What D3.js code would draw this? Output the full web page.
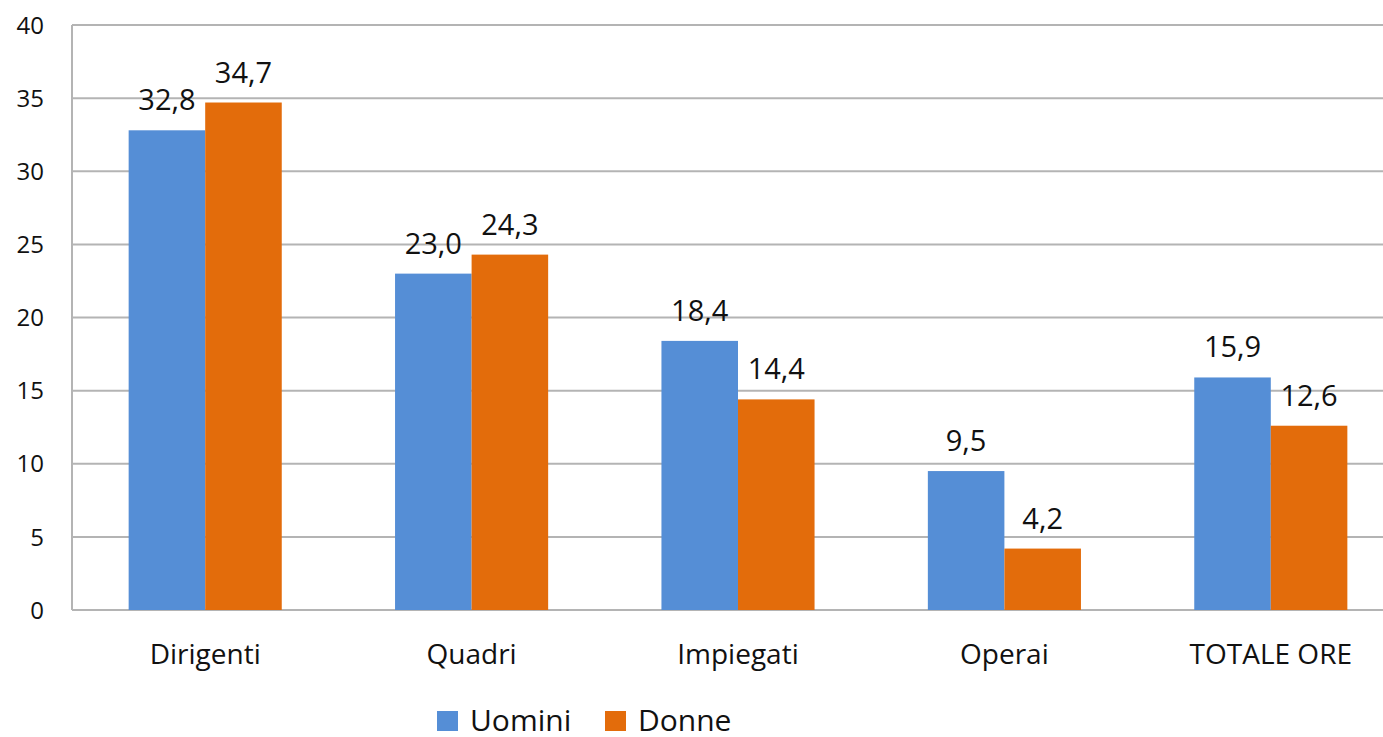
<!DOCTYPE html>
<html>
<head>
<meta charset="utf-8">
<script src="https://cdn.jsdelivr.net/npm/d3@7"></script>
<style>
    body { margin: 0; background: #fff; }
    svg text { font-family: 'Open Sans', sans-serif; fill: #111; }
</style>
</head>
<body>
<svg id="chart" width="1383" height="737"></svg>
<script>
// dati
const categories = ['Dirigenti', 'Quadri', 'Impiegati', 'Operai', 'TOTALE ORE'];
const seriesNames = ['Uomini', 'Donne'];
const uomini = [32.8, 23.0, 18.4, 9.5, 15.9];
const donne = [34.7, 24.3, 14.4, 4.2, 12.6];
const yTicks = [0, 5, 10, 15, 20, 25, 30, 35, 40];

const color = d3.scaleOrdinal().domain(seriesNames).range(['#558ed6', '#e36c0b']);

const svg = d3.select('#chart');
const plotLeft = 72, plotTop = 25, plotBottom = 610;
const step = 266.4;

const x0 = d3.scaleBand()
    .domain(categories)
    .range([plotLeft, plotLeft + step * categories.length]);

const x1 = d3.scaleBand()
    .domain(seriesNames)
    .range([0, x0.bandwidth()])
    .paddingOuter(0.74);

const y = d3.scaleLinear().domain([0, 40]).range([plotBottom, plotTop]);

const fmt = v => v.toFixed(1).replace('.', ',');

// griglia
svg.append('g')
    .selectAll('line')
    .data(yTicks)
    .enter()
    .append('line')
    .attr('x1', plotLeft)
    .attr('x2', 1383)
    .attr('y1', d => y(d))
    .attr('y2', d => y(d))
    .attr('stroke', '#b4b4b4')
    .attr('stroke-width', 2);

// asse verticale
svg.append('line')
    .attr('x1', plotLeft)
    .attr('x2', plotLeft)
    .attr('y1', y(40))
    .attr('y2', y(0))
    .attr('stroke', '#b4b4b4')
    .attr('stroke-width', 2);

// etichette asse y
svg.append('g')
    .selectAll('text')
    .data(yTicks)
    .enter()
    .append('text')
    .attr('x', 44)
    .attr('y', d => y(d))
    .attr('dy', '0.36em')
    .attr('text-anchor', 'end')
    .style('font-size', '24px')
    .text(d => d);

const rows = categories.map((c, i) => ({ cat: c, values: [uomini[i], donne[i]] }));

const groups = svg.append('g')
    .selectAll('g')
    .data(rows)
    .enter()
    .append('g')
    .attr('transform', d => `translate(${x0(d.cat)},0)`);

groups.selectAll('rect')
    .data(d => d.values.map((v, j) => ({ key: seriesNames[j], value: v })))
    .enter()
    .append('rect')
    .attr('x', d => x1(d.key))
    .attr('width', x1.bandwidth())
    .attr('y', d => y(d.value))
    .attr('height', d => y(0) - y(d.value))
    .attr('fill', d => color(d.key));

groups.selectAll('text')
    .data(d => d.values.map((v, j) => ({ key: seriesNames[j], value: v })))
    .enter()
    .append('text')
    .attr('x', d => x1(d.key) + x1.bandwidth() / 2)
    .attr('y', d => y(d.value) - 20)
    .attr('text-anchor', 'middle')
    .style('font-size', '29px')
    .text(d => fmt(d.value));

// etichette categorie
svg.append('g')
    .selectAll('text')
    .data(categories)
    .enter()
    .append('text')
    .attr('x', d => x0(d) + x0.bandwidth() / 2)
    .attr('y', 664)
    .attr('text-anchor', 'middle')
    .style('font-size', '28px')
    .text(d => d);

// legenda
const legendX = [437, 605];
const legend = svg.append('g')
    .selectAll('g')
    .data(seriesNames)
    .enter()
    .append('g')
    .attr('transform', (d, i) => `translate(${legendX[i]},711)`);

legend.append('rect')
    .attr('width', 21)
    .attr('height', 20)
    .attr('fill', d => color(d));

legend.append('text')
    .attr('x', 33)
    .attr('y', 20)
    .style('font-size', '30px')
    .text(d => d);
</script>
</body>
</html>
